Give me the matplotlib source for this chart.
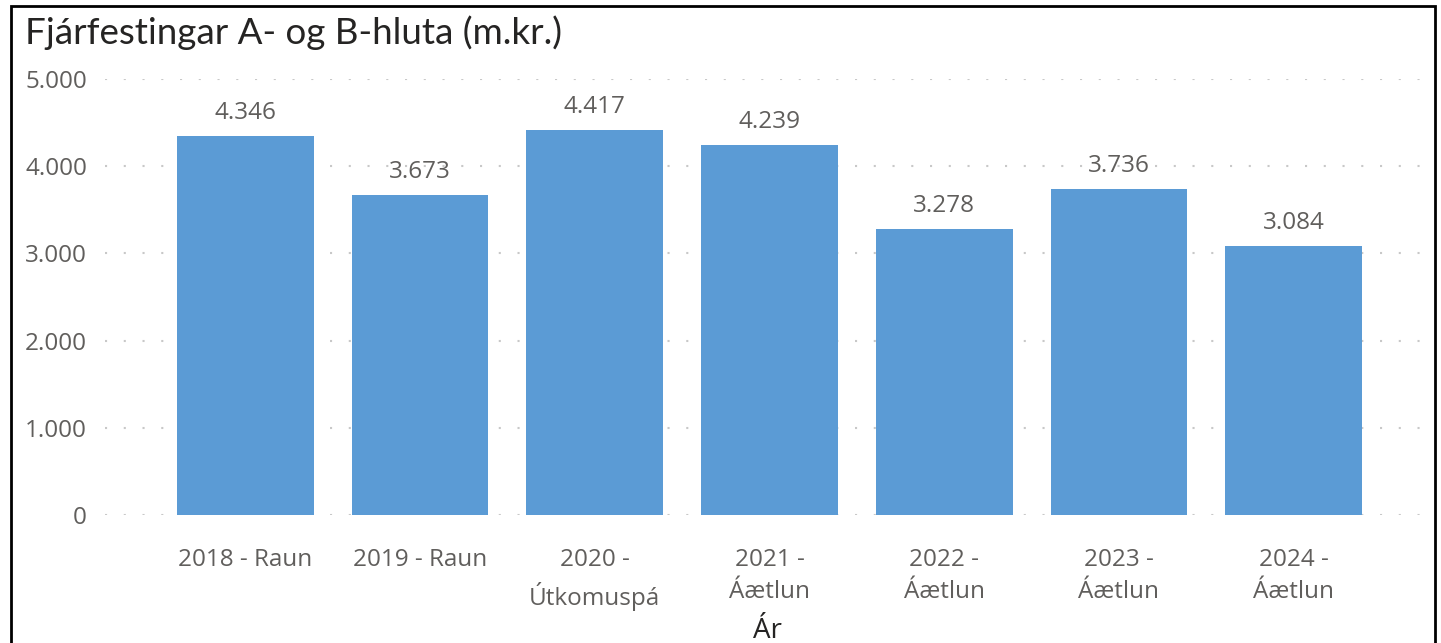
import matplotlib.pyplot as plt
from matplotlib.patches import Rectangle

# data
categories = ["2018 - Raun", "2019 - Raun", "2020 -\nÚtkomuspá", "2021 -\nÁætlun",
              "2022 -\nÁætlun", "2023 -\nÁætlun", "2024 -\nÁætlun"]
values = [4346, 3673, 4417, 4239, 3278, 3736, 3084]
yticks = [0, 1000, 2000, 3000, 4000, 5000]


def isl(v):
    # icelandic thousand separator
    return f"{v:,.0f}".replace(",", ".")


plt.rcParams['font.family'] = ['Open Sans', 'DejaVu Sans']

fig = plt.figure(figsize=(14.41, 6.43), dpi=100)
ax = fig.add_axes([105 / 1441, (643 - 515) / 643, (1430 - 105) / 1441, (515 - 79) / 643])

x = range(len(categories))
bars = ax.bar(x, values, width=0.783, color='#5B9BD5', zorder=3)

for b, v in zip(bars, values):
    ax.annotate(isl(v), (b.get_x() + b.get_width() / 2, v), xytext=(0, 8),
                textcoords='offset points', ha='center', va='bottom',
                fontsize=17.5, color='#605E5C')

ax.set_xlim(-0.803, 6.78)
ax.set_ylim(0, 5000)
ax.set_yticks(yticks)
ax.set_yticklabels([isl(t) for t in yticks])
ax.set_xticks(list(x))
ax.set_xticklabels(categories, linespacing=1.42)
ax.tick_params(axis='y', length=0, pad=13, labelsize=17.5, labelcolor='#605E5C')
ax.tick_params(axis='x', length=0, pad=24, labelsize=17.5, labelcolor='#605E5C')
for lab in ax.get_xticklabels():
    lab.set_va('top')

ax.grid(axis='y', color='#C8C8C8', linestyle=(0, (1, 8)), linewidth=1.5, zorder=0)
for s in ax.spines.values():
    s.set_visible(False)

ax.set_xlabel("Ár", fontsize=20, color='#252423', labelpad=0)
ax.xaxis.set_label_coords(0.5, -0.235)

fig.text(25 / 1441, 1 - 33 / 643, "Fjárfestingar A- og B-hluta (m.kr.)",
         fontsize=26.5, family=['Lato', 'DejaVu Sans'], color='#252423', va='center', ha='left')

# frame round the visual
fig.patches.append(Rectangle((11 / 1441, -0.1), (1435 - 11) / 1441, 1.1 - 6 / 643,
                             transform=fig.transFigure, fill=False, edgecolor='black',
                             linewidth=2, clip_on=False))

fig.savefig("out.png", dpi=100)
